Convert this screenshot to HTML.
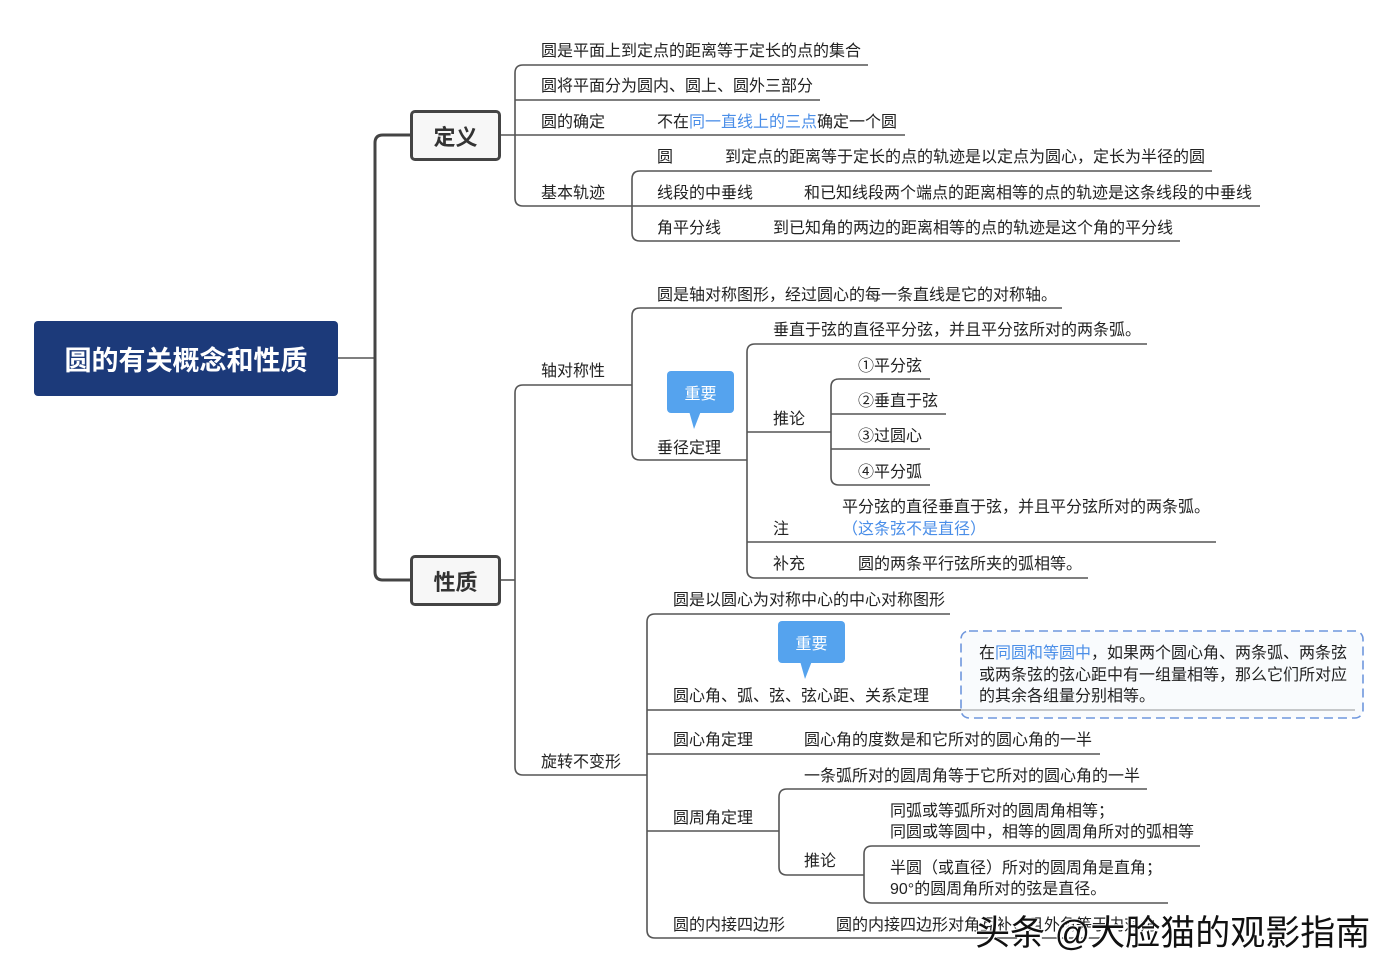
<!DOCTYPE html>
<html><head><meta charset="utf-8"><style>
html,body{margin:0;padding:0;background:#fff;}
#c{position:relative;width:1400px;height:979px;overflow:hidden;font-family:"Liberation Sans","Noto Sans CJK SC",sans-serif;color:#222;}
.t{position:absolute;font-size:16px;line-height:22px;white-space:nowrap;margin-top:2px;}
.b{color:#4a8ee8;}
svg{position:absolute;left:0;top:0;}
.box{position:absolute;background:#f7f7f7;border:3px solid #444;border-radius:5px;font-size:22px;font-weight:bold;display:flex;align-items:center;justify-content:center;box-sizing:border-box;color:#333;}
.bub{position:absolute;width:67px;height:42px;background:#55a3ee;border-radius:4px;color:#fff;font-size:16px;display:flex;align-items:center;justify-content:center;}
.bub:after{content:"";position:absolute;left:22px;top:40px;border-left:5px solid transparent;border-right:7px solid transparent;border-top:18px solid #55a3ee;}
</style></head><body><div id="c">
<svg width="1400" height="979" fill="none" stroke="#555" stroke-width="1.6">
<path d="M338,358 H375"/>
<path d="M410,135 H383 Q375,135 375,143 V572 Q375,580 383,580 H410" stroke-width="3" stroke="#444"/>
<path d="M500,135 H905"/>
<path d="M868,65 H523 Q515,65 515,73 V198 Q515,206 523,206 H632"/>
<path d="M515,100 H820"/>
<path d="M1212,171 H640 Q632,171 632,179 V233 Q632,241 640,241 H1180"/>
<path d="M632,206 H1260"/>
<path d="M500,580 H515"/>
<path d="M632,385 H523 Q515,385 515,393 V767 Q515,775 523,775 H647"/>
<path d="M1062,308 H640 Q632,308 632,316 V452 Q632,460 640,460 H747"/>
<path d="M1147,344 H755 Q747,344 747,352 V570 Q747,578 755,578 H1088"/>
<path d="M747,432 H831"/>
<path d="M747,542 H1216"/>
<path d="M930,379 H839 Q831,379 831,387 V477 Q831,485 839,485 H930"/>
<path d="M831,414 H946"/>
<path d="M831,449 H930"/>
<path d="M950,614 H655 Q647,614 647,622 V930 Q647,938 655,938 H1100"/>
<path d="M647,710 H1355"/>
<path d="M647,754 H1100"/>
<path d="M647,831 H779"/>
<path d="M1147,789 H787 Q779,789 779,797 V867 Q779,875 787,875 H864"/>
<path d="M1200,846 H872 Q864,846 864,854 V895 Q864,903 872,903 H1168"/>
<rect x="961" y="631" width="402" height="87" rx="8" stroke="#6f97dd" stroke-dasharray="9,5" fill="rgba(245,248,252,0.6)"/>
</svg>
<div style="position:absolute;left:34px;top:321px;width:304px;height:75px;background:#1c3a7a;border-radius:4px;color:#fff;font-size:27px;font-weight:bold;display:flex;align-items:center;justify-content:center;">圆的有关概念和性质</div>
<div class="box" style="left:410px;top:110px;width:91px;height:51px;">定义</div>
<div class="box" style="left:410px;top:555px;width:91px;height:51px;">性质</div>

<div class="t" style="left:541px;top:39px">圆是平面上到定点的距离等于定长的点的集合</div>
<div class="t" style="left:541px;top:74px">圆将平面分为圆内、圆上、圆外三部分</div>
<div class="t" style="left:541px;top:110px">圆的确定</div>
<div class="t" style="left:657px;top:110px">不在<span class="b">同一直线上的三点</span>确定一个圆</div>
<div class="t" style="left:541px;top:181px">基本轨迹</div>
<div class="t" style="left:657px;top:145px">圆</div>
<div class="t" style="left:725px;top:145px">到定点的距离等于定长的点的轨迹是以定点为圆心，定长为半径的圆</div>
<div class="t" style="left:657px;top:181px">线段的中垂线</div>
<div class="t" style="left:804px;top:181px">和已知线段两个端点的距离相等的点的轨迹是这条线段的中垂线</div>
<div class="t" style="left:657px;top:216px">角平分线</div>
<div class="t" style="left:773px;top:216px">到已知角的两边的距离相等的点的轨迹是这个角的平分线</div>

<div class="t" style="left:541px;top:359px">轴对称性</div>
<div class="t" style="left:657px;top:283px">圆是轴对称图形，经过圆心的每一条直线是它的对称轴。</div>
<div class="bub" style="left:667px;top:371px">重要</div>
<div class="t" style="left:657px;top:436px">垂径定理</div>
<div class="t" style="left:773px;top:318px">垂直于弦的直径平分弦，并且平分弦所对的两条弧。</div>
<div class="t" style="left:773px;top:407px">推论</div>
<div class="t" style="left:858px;top:354px">①平分弦</div>
<div class="t" style="left:858px;top:389px">②垂直于弦</div>
<div class="t" style="left:858px;top:424px">③过圆心</div>
<div class="t" style="left:858px;top:460px">④平分弧</div>
<div class="t" style="left:773px;top:517px">注</div>
<div class="t" style="left:842px;top:495px">平分弦的直径垂直于弦，并且平分弦所对的两条弧。</div>
<div class="t b" style="left:842px;top:517px">（这条弦不是直径）</div>
<div class="t" style="left:773px;top:552px">补充</div>
<div class="t" style="left:858px;top:552px">圆的两条平行弦所夹的弧相等。</div>

<div class="t" style="left:541px;top:750px">旋转不变形</div>
<div class="t" style="left:673px;top:588px">圆是以圆心为对称中心的中心对称图形</div>
<div class="bub" style="left:778px;top:621px">重要</div>
<div class="t" style="left:673px;top:684px">圆心角、弧、弦、弦心距、关系定理</div>
<div class="t" style="left:979px;top:641px">在<span class="b">同圆和等圆中</span>，如果两个圆心角、两条弧、两条弦</div>
<div class="t" style="left:979px;top:663px">或两条弦的弦心距中有一组量相等，那么它们所对应</div>
<div class="t" style="left:979px;top:684px">的其余各组量分别相等。</div>
<div class="t" style="left:673px;top:728px">圆心角定理</div>
<div class="t" style="left:804px;top:728px">圆心角的度数是和它所对的圆心角的一半</div>
<div class="t" style="left:673px;top:806px">圆周角定理</div>
<div class="t" style="left:804px;top:764px">一条弧所对的圆周角等于它所对的圆心角的一半</div>
<div class="t" style="left:804px;top:849px">推论</div>
<div class="t" style="left:890px;top:799px">同弧或等弧所对的圆周角相等；</div>
<div class="t" style="left:890px;top:820px">同圆或等圆中，相等的圆周角所对的弧相等</div>
<div class="t" style="left:890px;top:856px">半圆（或直径）所对的圆周角是直角；</div>
<div class="t" style="left:890px;top:877px">90°的圆周角所对的弦是直径。</div>
<div class="t" style="left:673px;top:913px">圆的内接四边形</div>
<div class="t" style="left:836px;top:913px">圆的内接四边形对角互补，且外角等于内对角</div>
<div style="position:absolute;left:975px;top:913px;font-size:35px;line-height:42px;color:#111;white-space:nowrap;text-shadow:2px 2px 0 #fff,-1px -1px 0 #fff;">头条 @大脸猫的观影指南</div>
</div></body></html>
